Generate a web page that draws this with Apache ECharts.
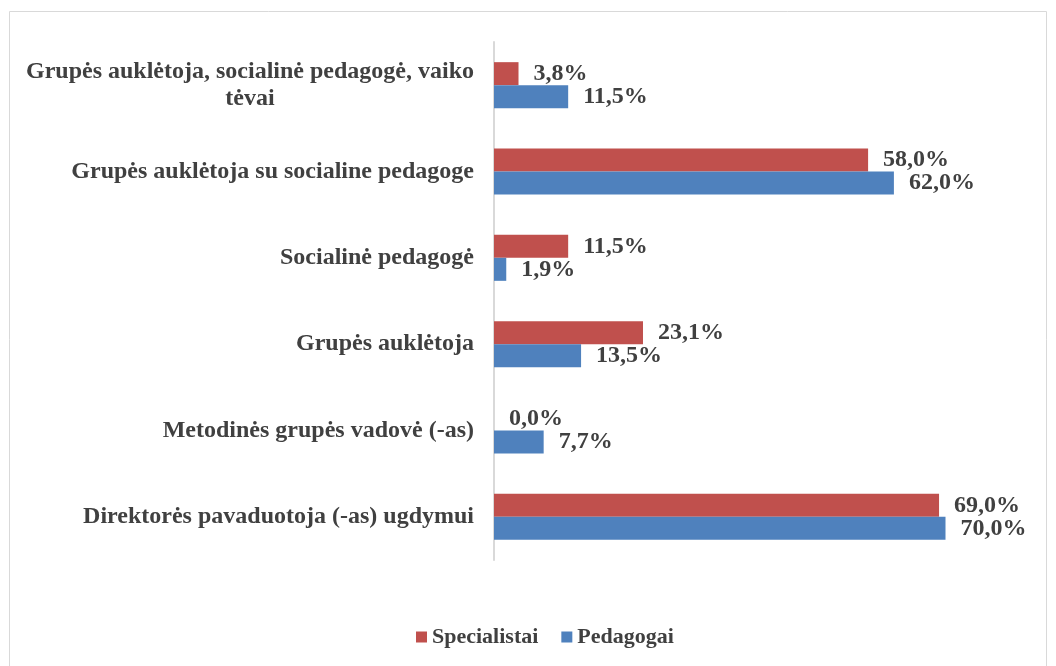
<!DOCTYPE html>
<html>
<head>
    <meta charset="utf-8">
    <script src="https://cdn.jsdelivr.net/npm/echarts@6/dist/echarts.min.js"></script>
    <style>
        html, body { margin: 0; padding: 0; background: #fff; }
    </style>
</head>
<body>
    <div id="main" style="width: 1056px;height:666px;"></div>
    <script type="text/javascript">
        // kategorijos (iš viršaus į apačią)
        var categories = [
            'Grupės auklėtoja, socialinė pedagogė, vaiko tėvai',
            'Grupės auklėtoja su socialine pedagoge',
            'Socialinė pedagogė',
            'Grupės auklėtoja',
            'Metodinės grupės vadovė (-as)',
            'Direktorės pavaduotoja (-as) ugdymui'
        ];
        var specialistai = [3.8, 58.0, 11.5, 23.1, 0.0, 69.0];
        var pedagogai = [11.5, 62.0, 1.9, 13.5, 7.7, 70.0];

        var font = 'Liberation Serif';
        var txt = '#404040';

        function pct(p) {
            return p.value.toFixed(1).replace('.', ',') + '%';
        }

        var myChart = echarts.init(document.getElementById('main'));
        myChart.setOption({
            animation: false,
            graphic: [{
                type: 'rect',
                shape: { x: 9.5, y: 11.5, width: 1037, height: 660 },
                style: { fill: 'none', stroke: '#d9d9d9', lineWidth: 1 }
            }],
            legend: {
                data: ['Specialistai', 'Pedagogai'],
                bottom: 13,
                left: 411,
                icon: 'rect',
                itemWidth: 11,
                itemHeight: 11,
                itemGap: 23,
                textStyle: { fontFamily: font, fontWeight: 'bold', fontSize: 22, color: txt }
            },
            grid: { left: 494, right: 46, top: 42, bottom: 106 },
            xAxis: {
                type: 'value',
                min: 0,
                max: 80,
                show: false
            },
            yAxis: {
                type: 'category',
                data: categories,
                inverse: true,
                axisLine: { lineStyle: { color: '#d9d9d9', width: 2 } },
                axisTick: { show: false },
                axisLabel: {
                    margin: 20,
                    fontFamily: font,
                    fontWeight: 'bold',
                    fontSize: 24,
                    color: txt,
                    lineHeight: 27,
                    formatter: function (v, i) {
                        if (i === 0) {
                            return '{c|Grupės auklėtoja, socialinė pedagogė, vaiko}\n{c|tėvai}';
                        }
                        return v;
                    },
                    rich: {
                        c: {
                            width: 448,
                            align: 'center',
                            fontFamily: font,
                            fontWeight: 'bold',
                            fontSize: 24,
                            color: txt,
                            lineHeight: 27
                        }
                    }
                }
            },
            series: [{
                name: 'Specialistai',
                type: 'bar',
                data: specialistai,
                barWidth: 23,
                barGap: 0,
                itemStyle: { color: '#C0504D' },
                label: {
                    show: true,
                    position: 'right',
                    distance: 15,
                    formatter: pct,
                    fontFamily: font,
                    fontWeight: 'bold',
                    fontSize: 24,
                    color: txt
                }
            }, {
                name: 'Pedagogai',
                type: 'bar',
                data: pedagogai,
                barWidth: 23,
                barGap: 0,
                itemStyle: { color: '#4F81BD' },
                label: {
                    show: true,
                    position: 'right',
                    distance: 15,
                    formatter: pct,
                    fontFamily: font,
                    fontWeight: 'bold',
                    fontSize: 24,
                    color: txt
                }
            }]
        });
    </script>
</body>
</html>
